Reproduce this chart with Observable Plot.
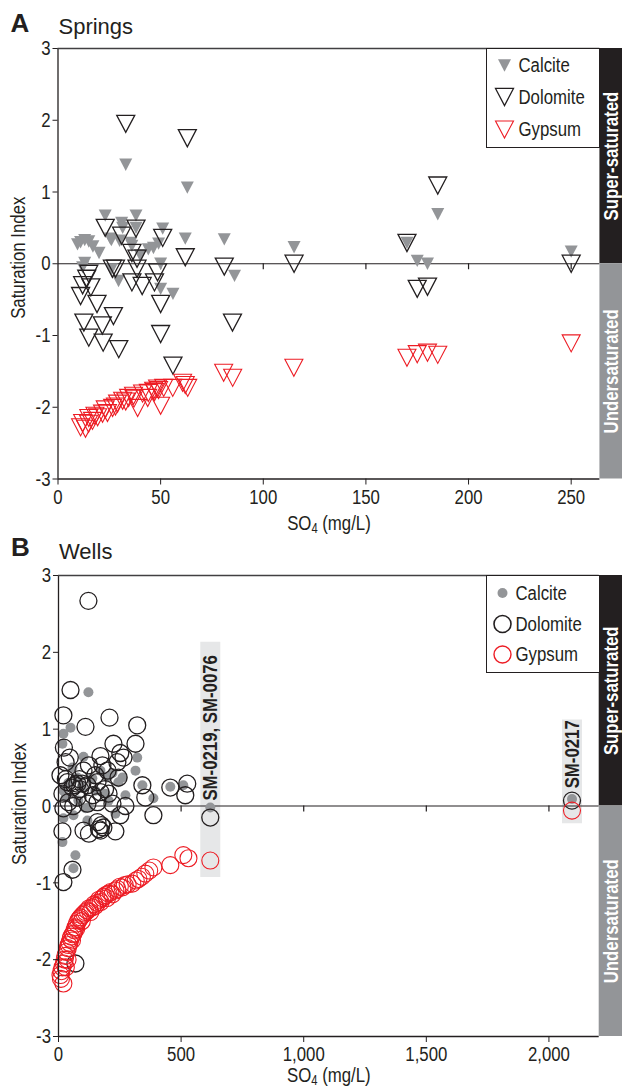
<!DOCTYPE html>
<html><head><meta charset="utf-8">
<script src="https://cdn.jsdelivr.net/npm/d3@7"></script>
<script src="https://cdn.jsdelivr.net/npm/@observablehq/plot@0.6"></script>
<style>
body{margin:0;background:#fff;}
#wrap{width:622px;height:1091px;overflow:hidden;}
#wrap svg{display:block;}
</style></head><body><div id="wrap"></div>
<script>
// ---------- data ----------
const springTicksX = [0, 50, 100, 150, 200, 250];
const wellTicksX = [0, 500, 1000, 1500, 2000];
const siTicks = [-3, -2, -1, 0, 1, 2, 3];
const mineralNames = ["Calcite", "Dolomite", "Gypsum"];
const bandLabels = ["Super-saturated", "Undersaturated"];
const bandLow = [0, -3];
const bandHigh = [3, 0];

// Springs: [SO4 mg/L, saturation index]
const springsCalcite = [[9.5,0.27],[11,0.30],[13,0.33],[15,0.31],[17,0.24],[20,0.15],[23,0.67],[25.5,0.35],[26,0.33],[30,0.32],[31,0.57],[31.5,0.5],[33,1.38],[35.5,0.29],[36,0.25],[38,0.67],[38,0.5],[40,0.12],[44,0.2],[46.5,0.22],[49,0.28],[51,0.49],[62,0.35],[63,1.06],[81,0.34],[115,0.23],[250,0.17],[13,0.01],[12,-0.05],[50,0.0],[26,-0.08],[29.5,-0.24],[50,-0.35],[56,-0.42],[86,-0.17],[170,0.29],[175,0.04],[180,0.0],[185,0.69]];
const springsDolomite = [[33,1.95],[63,1.75],[23,0.5],[31,0.39],[38,0.49],[51,0.36],[62,0.09],[81,-0.04],[115,0.0],[36,0.15],[38.5,0.07],[15,-0.14],[14,-0.21],[12,-0.3],[16,-0.33],[11,-0.45],[19,-0.56],[27,-0.73],[12.6,-0.82],[21.6,-0.86],[15,-1.03],[22,-1.1],[29.6,-1.19],[26.5,-0.07],[28,-0.07],[36,-0.26],[41,-0.31],[38.5,-0.07],[47,-0.26],[48.5,-0.12],[50,-0.56],[50,-0.98],[56,-1.42],[85,-0.82],[185,1.09],[170,0.29],[175,-0.35],[180,-0.32],[250,0.0]];
const springsGypsum = [[11,-2.28],[13.4,-2.30],[14.9,-2.23],[12,-2.22],[16.8,-2.19],[19.3,-2.14],[21.7,-2.09],[24.1,-2.08],[26.6,-2.01],[29,-1.95],[31.5,-1.91],[34.4,-1.87],[36.8,-1.84],[38.8,-2.01],[41.2,-1.81],[43.7,-1.87],[46.6,-1.77],[48.5,-1.74],[50,-1.98],[51.5,-1.73],[55.9,-1.73],[60.7,-1.66],[63.2,-1.73],[80.7,-1.52],[85.1,-1.59],[114.9,-1.45],[170,-1.31],[175,-1.26],[180,-1.24],[185,-1.27],[250,-1.11],[15,-2.15],[18,-2.12],[23,-2.03],[28,-1.99],[33,-1.92],[37,-1.88],[44,-1.80],[47,-1.79],[49,-1.76],[62,-1.69]];

// Wells: [SO4 mg/L, saturation index]
const wellsCalcite = [[122,1.48],[49,1.02],[20,0.94],[16,0.81],[102,0.64],[321,0.63],[314,0.46],[220,0.43],[171,0.46],[261,0.37],[200,0.37],[57,0.5],[77,0.37],[138,0.36],[244,0.31],[342,0.27],[456,0.25],[509,0.27],[387,0.1],[273,0.14],[191,0.16],[204,0.07],[81,0.07],[29,0.11],[20,0.2],[122,-0.02],[232,-0.1],[61,-0.12],[20,-0.16],[118,-0.19],[110,-0.03],[16,-0.47],[69,-0.64],[61,-0.81],[40,0.3],[95,0.25],[150,0.2],[619,-0.02],[2094,0.09]];
const wellsDolomite = [[122,2.67],[49,1.51],[20,1.18],[110,1.03],[208,1.15],[321,1.05],[314,0.81],[224,0.81],[22,0.76],[46,0.63],[171,0.65],[252,0.69],[265,0.63],[240,0.57],[29,0.57],[102,0.46],[124,0.53],[179,0.53],[200,0.46],[8,0.40],[245,0.37],[36,0.31],[77,0.29],[97,0.29],[57,0.24],[118,0.27],[159,0.31],[171,0.18],[204,0.16],[342,0.27],[354,0.11],[456,0.24],[525,0.29],[517,0.14],[16,0.16],[41,0.05],[77,0.11],[118,0.03],[159,0.05],[220,0.03],[273,0.0],[20,-0.03],[387,-0.12],[619,-0.15],[252,-0.12],[16,-0.33],[102,-0.32],[124,-0.36],[159,-0.21],[171,-0.32],[183,-0.28],[232,-0.33],[57,-0.83],[20,-0.99],[69,-2.05],[65,0.27],[88,0.22],[140,0.14],[190,0.22],[30,0.35],[85,0.35],[150,0.4],[60,0.0],[175,-0.25],[165,-0.3],[2094,0.07]];
const wellsGypsum = [[8,-2.2],[10,-2.25],[12,-2.15],[16,-2.1],[20,-2.31],[22,-2.05],[25,-2.0],[28,-1.95],[30,-2.1],[33,-1.9],[37,-2.0],[38,-1.85],[41,-1.81],[45,-1.78],[49,-1.73],[52,-1.7],[55,-1.75],[58,-1.67],[61,-1.66],[65,-1.62],[69,-1.58],[72,-1.6],[75,-1.53],[81,-1.49],[86,-1.47],[90,-1.45],[95,-1.5],[98,-1.42],[105,-1.4],[110,-1.38],[118,-1.36],[125,-1.33],[130,-1.38],[138,-1.32],[145,-1.28],[150,-1.3],[159,-1.26],[165,-1.22],[172,-1.25],[179,-1.2],[185,-1.18],[192,-1.16],[198,-1.2],[204,-1.14],[212,-1.12],[220,-1.15],[232,-1.1],[240,-1.08],[250,-1.05],[261,-1.06],[270,-1.03],[282,-1.02],[301,-1.01],[315,-0.97],[326,-0.95],[340,-0.92],[354,-0.88],[370,-0.84],[387,-0.8],[456,-0.77],[509,-0.64],[530,-0.68],[619,-0.71],[2094,-0.06]];

// Well annotations
const annotLabels = ["SM-0219, SM-0076", "SM-0217"];
const annotSO4 = [619, 2094];
const annotTop = [2.13, 1.12];
const annotBottom = [-0.93, -0.23];
const annotTextStart = [0.07, 0.23];

// ---------- styles ----------
const FONT = "'Liberation Sans',Arial,sans-serif";
const NARROW = 0.8; // horizontal condensing to mimic a narrow face
const INK = "#231f20", GREY = "#939598", RED = "#ed1c24", PALE = "#e6e7e8";
const bandFill = [INK, GREY];

const triDown = {draw(ctx, size) {
  const r = Math.sqrt(size / Math.PI), h = r * 0.95;
  ctx.moveTo(-r, -h); ctx.lineTo(r, -h); ctx.lineTo(0, h); ctx.closePath();
}};

function toRows(arr) { return arr.map(([so4, si]) => ({so4, si})); }

function panel(cfg) {
  const bands = bandLabels.map((label, i) => ({label, lo: bandLow[i], hi: bandHigh[i], fill: bandFill[i]}));
  const styles = cfg.styles;
  const marks = [];
  if (cfg.annot) {
    const ann = annotLabels.map((label, i) => ({label, x: annotSO4[i], top: annotTop[i], bottom: annotBottom[i], start: annotTextStart[i]}));
    marks.push(Plot.ruleX(ann, {x: "x", y1: "bottom", y2: "top", stroke: PALE, strokeWidth: 20}));
    marks.push(Plot.text(ann, {x: "x", y: "start", text: "label", rotate: -90, textAnchor: "start", lineAnchor: "middle", fontWeight: "bold", fontSize: 21, fill: INK}));
  }
  marks.push(Plot.ruleY([0], {x1: 0, x2: cfg.bandStart, stroke: INK, strokeWidth: 1.2}));
  marks.push(Plot.ruleX(cfg.ticksX.filter(d => d > 0), {y1: 0, y2: 0, insetBottom: -6, stroke: INK, strokeWidth: 1.2}));
  cfg.series.forEach((s, i) => {
    marks.push(Plot.dot(toRows(s), {x: "so4", y: "si", ...styles[i]}));
  });
  marks.push(Plot.ruleX([0], {stroke: INK, strokeWidth: 1.3}));
  marks.push(Plot.ruleY([3], {x1: 0, x2: cfg.bandStart, stroke: "#414042", strokeWidth: 1.3}));
  marks.push(Plot.ruleY([-3], {x1: 0, x2: cfg.bandStart, stroke: INK, strokeWidth: 1.3}));
  marks.push(Plot.axisY({ticks: siTicks, tickSize: 5, tickPadding: 2.5, label: null, fontSize: 21, tickFormat: d => String(d), stroke: INK}));
  marks.push(Plot.axisX({ticks: cfg.ticksX, tickSize: 6, tickPadding: 4, label: null, fontSize: 21, tickFormat: cfg.tickFormat, stroke: INK}));
  marks.push(Plot.rect(bands, {x1: cfg.bandStart, x2: cfg.xMax, y1: "lo", y2: "hi", fill: "fill"}));
  marks.push(Plot.text(bands, {x: (cfg.bandStart + cfg.xMax) / 2, y: d => (d.lo + d.hi) / 2, text: "label", rotate: -90, textAnchor: "middle", lineAnchor: "middle", fill: "white", fontWeight: "bold", fontSize: 21}));
  // legend
  const L = cfg.legend;
  marks.push(Plot.frame({fill: "white", stroke: INK, strokeWidth: 1, insetLeft: L.insetLeft, insetRight: L.insetRight, insetBottom: L.insetBottom}));
  mineralNames.forEach((name, i) => {
    marks.push(Plot.dot([name], {frameAnchor: "top-left", dx: L.symX, dy: L.rows[i], ...styles[i], ...(cfg.legendStyles ? cfg.legendStyles[i] : {})}));
    marks.push(Plot.text([name], {frameAnchor: "top-left", dx: L.textX, dy: L.rows[i], text: d => d, textAnchor: "start", lineAnchor: "middle", fontSize: 21, fill: INK}));
  });
  // titles and labels
  marks.push(Plot.text([cfg.letter], {frameAnchor: "top-left", dx: -47.5, dy: cfg.letterDy, text: d => d, lineAnchor: "top", textAnchor: "start", fontWeight: "bold", fontSize: 26, fill: INK}));
  marks.push(Plot.text([cfg.title], {frameAnchor: "top-left", dx: 0.5, dy: cfg.titleDy, text: d => d, lineAnchor: "top", textAnchor: "start", fontSize: 22, fill: INK}));
  marks.push(Plot.text(["Saturation Index"], {frameAnchor: "left", dx: -39.5, dy: cfg.ylabDy, text: d => d, rotate: -90, textAnchor: "middle", lineAnchor: "middle", fontSize: 21, fill: INK}));
  marks.push(Plot.text(["SO4 (mg/L)"], {x: cfg.bandStart / 2, frameAnchor: "bottom", dy: cfg.xlabDy, text: d => d, textAnchor: "middle", lineAnchor: "top", fontSize: 21, fill: INK}));

  const svg = Plot.plot({
    width: 622, height: cfg.height,
    marginLeft: cfg.marginLeft, marginRight: 0, marginTop: cfg.marginTop, marginBottom: cfg.marginBottom,
    x: {domain: [0, cfg.xMax]},
    y: {domain: [-3, 3]},
    style: {fontFamily: FONT, color: INK, background: "white", overflow: "visible"},
    marks
  });
  const keepWide = new Set([cfg.letter, cfg.title]);
  svg.querySelectorAll("text").forEach(t => {
    const content = t.textContent;
    if (content === "SO4 (mg/L)") {
      t.innerHTML = 'SO<tspan dy="3" font-size="14">4</tspan><tspan dy="-3"> (mg/L)</tspan>';
    }
    if (keepWide.has(content)) return;
    const tr = t.getAttribute("transform");
    if (tr) {
      t.setAttribute("transform", tr + ` scale(${NARROW},1)`);
    } else {
      const x = +(t.getAttribute("x") || 0), y = +(t.getAttribute("y") || 0);
      t.removeAttribute("x"); t.removeAttribute("y");
      t.setAttribute("transform", `translate(${x},${y}) scale(${NARROW},1)`);
    }
  });
  return svg;
}

const wrap = document.getElementById("wrap");

const triStyles = [
  {symbol: triDown, r: 6.5, fill: GREY, stroke: "none"},
  {symbol: triDown, r: 9, fill: "none", stroke: INK, strokeWidth: 1.3},
  {symbol: triDown, r: 9, fill: "none", stroke: RED, strokeWidth: 1.1}
];
const circStyles = [
  {r: 5, fill: GREY, stroke: "none"},
  {r: 8.5, fill: "none", stroke: INK, strokeWidth: 1.3},
  {r: 8.5, fill: "none", stroke: RED, strokeWidth: 1.1}
];

wrap.appendChild(panel({
  letter: "A", title: "Springs", letterDy: -35, titleDy: -30.5, ylabDy: -6, xlabDy: 36,
  height: 530, marginTop: 48, marginBottom: 51.5, marginLeft: 57.5,
  xMax: 275, bandStart: 264, ticksX: springTicksX, tickFormat: d => String(d),
  series: [springsCalcite, springsDolomite, springsGypsum], styles: triStyles,
  legend: {insetLeft: 428.5, insetRight: 23, insetBottom: 331.5, symX: 446.5, textX: 460.5, rows: [17, 48.5, 81]}
}));
wrap.appendChild(panel({
  letter: "B", title: "Wells", letterDy: -38, titleDy: -32.5, ylabDy: -2, xlabDy: 31,
  height: 561, marginTop: 45, marginBottom: 55, marginLeft: 58,
  xMax: 2300, bandStart: 2205, ticksX: wellTicksX, tickFormat: d3.format(","),
  series: [wellsCalcite, wellsDolomite, wellsGypsum], styles: circStyles, annot: true,
  legendStyles: [{}, {strokeWidth: 1.6}, {strokeWidth: 1.4}],
  legend: {insetLeft: 428, insetRight: 23, insetBottom: 364, symX: 444, textX: 457, rows: [17.5, 48.5, 79]}
}));
</script></body></html>
